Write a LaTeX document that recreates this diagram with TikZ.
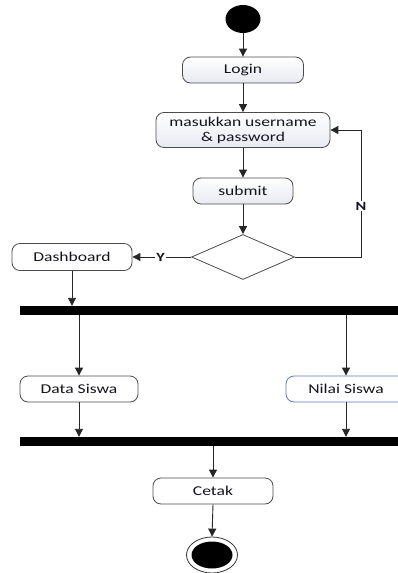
\documentclass[tikz,border=0pt]{standalone}
\usepackage{fontspec}
\setmainfont{Carlito}[FakeStretch=1.3]
\usetikzlibrary{shapes.geometric,arrows.meta}

\definecolor{boxblue}{RGB}{90,125,180}
\definecolor{boxtext}{RGB}{20,20,30}
\definecolor{boxshade}{RGB}{232,234,242}

\tikzset{
    activity/.style={draw=black!70, line width=0.8pt, rounded corners=8pt, minimum height=26pt,
        inner sep=2pt, text=boxtext, font=\fontsize{13.5}{15}\selectfont},
    shadedact/.style={activity, top color=white, bottom color=boxshade},
    forkbar/.style={fill=black, minimum width=378pt, minimum height=9pt, inner sep=0pt},
    flow/.style={-{Triangle[length=8pt,width=8pt]}, black!85, line width=0.9pt},
    guard/.style={fill=white, inner sep=1pt, text=boxtext, font=\fontsize{12.5}{14}\bfseries}
}

\begin{document}
\begin{tikzpicture}[x=1pt, y=1pt, yscale=-1]
    \useasboundingbox (0,0) rectangle (398,573);

    % Define the positions of the nodes
    \coordinate (startPos) at (243, 19);
    \coordinate (loginPos) at (243, 70);
    \coordinate (inputPos) at (243, 130);
    \coordinate (submitPos) at (243, 191);
    \coordinate (decidePos) at (243, 257);
    \coordinate (dashPos) at (72, 257);
    \coordinate (fork1Pos) at (209, 310.5);
    \coordinate (dataPos) at (79, 389);
    \coordinate (nilaiPos) at (346, 389);
    \coordinate (fork2Pos) at (209, 441.5);
    \coordinate (cetakPos) at (213, 491);
    \coordinate (endPos) at (212, 555);

    % Draw the nodes
    \node[ellipse, fill=black, minimum width=35pt, minimum height=28pt] (start) at (startPos) {};
    \node[shadedact, minimum width=121pt] (login) at (loginPos) {Login};
    \node[shadedact, minimum width=174pt, minimum height=35pt, align=center] (input) at (inputPos) {masukkan username\\\& password};
    \node[shadedact, minimum width=100pt] (submit) at (submitPos) {submit};
    \node[diamond, draw=black!70, line width=0.8pt, minimum width=103pt, minimum height=45pt, inner sep=0pt] (decide) at (decidePos) {};
    \node[activity, fill=white, minimum width=120pt, minimum height=27pt] (dash) at (dashPos) {Dashboard};
    \node[forkbar] (fork1) at (fork1Pos) {};
    \node[activity, fill=white, minimum width=118pt] (data) at (dataPos) {Data Siswa};
    \node[activity, fill=white, draw=boxblue, minimum width=120pt] (nilai) at (nilaiPos) {Nilai Siswa};
    \node[forkbar] (fork2) at (fork2Pos) {};
    \node[activity, fill=white, minimum width=120pt] (cetak) at (cetakPos) {Cetak};
    \node[ellipse, draw=black!80, line width=0.8pt, minimum width=51pt, minimum height=36pt] (stop) at (endPos) {};
    \node[ellipse, fill=black, minimum width=41pt, minimum height=27pt] (stopDot) at (endPos) {};
    \coordinate (nLoop) at (361, 257);

    % Draw the flows
    \draw[flow] (start) -- (login);
    \draw[flow] (login) -- (input);
    \draw[flow] (input) -- (submit);
    \draw[flow] (submit) -- (decide);
    \draw[flow] (decide.east) -- (nLoop) |- node[guard, pos=0.2] {N} (input.east);
    \draw[flow] (decide.west) -- node[guard, pos=0.52] {Y} (dash.east);
    \draw[flow] (dash.south) -- (dash.south |- fork1.north);
    \draw[flow] (data.north |- fork1.south) -- (data.north);
    \draw[flow] (nilai.north |- fork1.south) -- (nilai.north);
    \draw[flow] (data.south) -- (data.south |- fork2.north);
    \draw[flow] (nilai.south) -- (nilai.south |- fork2.north);
    \draw[flow] (cetak.north |- fork2.south) -- (cetak.north);
    \draw[flow] (cetak.south) -- (stop.north);
\end{tikzpicture}
\end{document}
